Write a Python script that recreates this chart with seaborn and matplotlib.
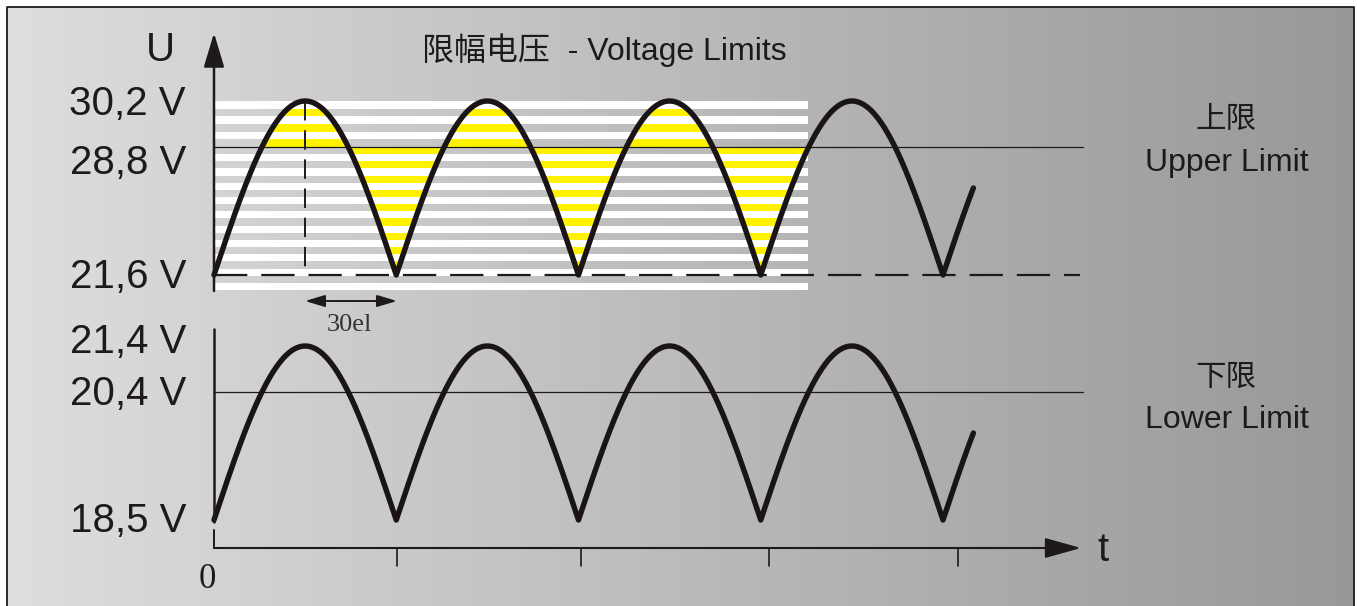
import numpy as np
import pandas as pd
import matplotlib
matplotlib.use("Agg")
import matplotlib.pyplot as plt
import seaborn as sns
from matplotlib.patches import Rectangle, PathPatch
from matplotlib.path import Path

# ---------------- data ----------------
title_text = "限幅电压  - Voltage Limits"
axis_u_label = "U"
axis_t_label = "t"
origin_label = "0"
upper_tick_labels = ["21,6 V", "28,8 V", "30,2 V"]   # trough, limit, peak
lower_tick_labels = ["18,5 V", "20,4 V", "21,4 V"]   # trough, limit, peak
upper_side_labels = ["上限", "Upper Limit"]
lower_side_labels = ["下限", "Lower Limit"]
half_wave_label = "30el"
wave_end_deg = 750                       # electrical degrees drawn
period_marks_deg = [181, 362, 548, 735]  # tick marks on the t axis
limit_level = 0.736                      # limit position between trough (0) and peak (1)
stripe_end_deg = 587                     # hatched area ends here

# ---------------- layout ----------------
W, H = 1357, 606
X0, SC = 214.0, 1.0125          # pixel of t=0, pixels per degree


def dx(px):
    return (px - X0) / SC


sns.set_theme(style="white")
plt.rcParams["font.family"] = ["Liberation Sans", "Noto Sans CJK SC", "DejaVu Sans"]
plt.rcParams["lines.scale_dashes"] = False

fig = plt.figure(figsize=(W / 100, H / 100), dpi=100)
ax = fig.add_axes([0, 0, 1, 1])
ax.set_xlim(dx(0), dx(W))
ax.set_ylim(H, 0)
ax.axis("off")

ink = "#1e1a1b"

# background gradient inside border
grad = np.linspace(222, 152, 512) / 255.0
img = np.dstack([grad, grad, grad]).repeat(2, axis=0)
ax.imshow(img, extent=(dx(7), dx(1354), H + 5, 7), aspect="auto", zorder=0,
          interpolation="bilinear")
ax.plot([dx(7), dx(7), dx(1354), dx(1354)], [H + 5, 7, 7, H + 5], color=ink, lw=1.3, zorder=6)

# panels: (trough pixel, amplitude pixel)
panels = [dict(trough=275.0, amp=174.0, ticks=upper_tick_labels, side=upper_side_labels,
               tick_y=[277, 163, 104], side_y=[120, 163]),
          dict(trough=520.0, amp=174.0, ticks=lower_tick_labels, side=lower_side_labels,
               tick_y=[521, 394, 342], side_y=[378, 420])]

deg = np.linspace(0, wave_end_deg, 3001)
level = np.abs(np.sin(np.radians(deg)))

# ---- stripes (upper panel) ----
top = panels[0]
lim_top = top["trough"] - top["amp"] * limit_level
xs0, xs1 = dx(214), stripe_end_deg
gap_rects = []
P = (lim_top - 101.0) / 3.0
for k in range(3):
    y = 101.0 + k * P
    ax.add_patch(Rectangle((xs0, y), xs1 - xs0, P / 2, facecolor="white", lw=0, zorder=1))
    gap_rects.append((y + P / 2, y + P))
Q = (290.0 - lim_top) / 10.0
for k in range(10):
    y = lim_top + k * Q
    gap_rects.append((y, y + Q / 2))
    ax.add_patch(Rectangle((xs0, y + Q / 2), xs1 - xs0, Q / 2, facecolor="white", lw=0, zorder=1))

paths = [Path([(xs0, a), (xs1, a), (xs1, b), (xs0, b), (xs0, a)],
              [Path.MOVETO, Path.LINETO, Path.LINETO, Path.LINETO, Path.CLOSEPOLY])
         for a, b in gap_rects]
clip = PathPatch(Path.make_compound_path(*paths), transform=ax.transData)

curve_top = top["trough"] - top["amp"] * level
x_cross = np.degrees(np.arcsin(limit_level))
sel = (deg >= x_cross) & (deg <= stripe_end_deg)
poly = ax.fill_between(deg[sel], np.minimum(curve_top[sel], lim_top),
                       np.maximum(curve_top[sel], lim_top),
                       facecolor="#fff200", lw=0, zorder=2)
poly.set_clip_path(clip)

# ---- curves, limits, labels ----
for p in panels:
    lim = p["trough"] - p["amp"] * limit_level
    ax.plot([0, dx(1083)], [lim, lim], color=ink, lw=0.9, zorder=3)
    df = pd.DataFrame({"t": deg, "u": p["trough"] - p["amp"] * level})
    sns.lineplot(data=df, x="t", y="u", ax=ax, color="#1a1414", lw=3.9,
                 estimator=None, sort=False, zorder=4)
    for lab, ty in zip(p["ticks"], p["tick_y"]):
        ax.text(dx(186), ty, lab, ha="right", va="center", fontsize=29, color=ink)
    ax.text(dx(1226), p["side_y"][0], p["side"][0], ha="center", va="center",
            fontsize=22, color=ink)
    ax.text(dx(1227), p["side_y"][1], p["side"][1], ha="center", va="center",
            fontsize=23, color=ink)

# dashed baseline & vertical dashed line in upper panel
ax.plot([0, dx(1080)], [top["trough"], top["trough"]], color=ink, lw=1.6,
        ls=(0, (24, 10)), zorder=3)
ax.plot([90, 90], [top["trough"] - top["amp"], top["trough"]], color=ink, lw=1.4,
        ls=(0, (14, 7)), zorder=3)

# axes
ax.annotate("", xy=(0, 33), xytext=(0, 291),
            arrowprops=dict(arrowstyle="-|>,head_length=1.4,head_width=0.42",
                            mutation_scale=15, lw=1.8, color=ink, shrinkA=0, shrinkB=0),
            zorder=5)
ax.plot([0, 0], [329, 522], color=ink, lw=1.8, zorder=5)
ax.plot([0, 0], [530, 548], color=ink, lw=1.4, zorder=5)
ax.annotate("", xy=(dx(1081), 548), xytext=(0, 548),
            arrowprops=dict(arrowstyle="-|>,head_length=1.5,head_width=0.42",
                            mutation_scale=15, lw=1.5, color=ink, shrinkA=0, shrinkB=0),
            zorder=5)
for m in period_marks_deg:
    ax.plot([m, m], [548, 566], color=ink, lw=1.2, zorder=5)

# 30el half-wave marker
ax.annotate("", xy=(dx(397), 301), xytext=(dx(305), 301),
            arrowprops=dict(arrowstyle="<|-|>,head_length=1.0,head_width=0.3",
                            mutation_scale=12, lw=1.4, color=ink, shrinkA=0, shrinkB=0),
            zorder=5)
ax.text(dx(349), 325, half_wave_label, ha="center", va="center", fontsize=19,
        family="Liberation Serif", color="#333333")

ax.text(dx(207), 579, origin_label, ha="center", va="center", fontsize=25,
        family="Liberation Serif", color=ink)
ax.text(dx(160), 50, axis_u_label, ha="center", va="center", fontsize=29, color=ink)
ax.text(dx(1103), 550, axis_t_label, ha="center", va="center", fontsize=29, color=ink)
ax.text(dx(422), 50, title_text, ha="left", va="center", fontsize=23, color=ink)

fig.savefig("out.png", dpi=100, facecolor="white")
